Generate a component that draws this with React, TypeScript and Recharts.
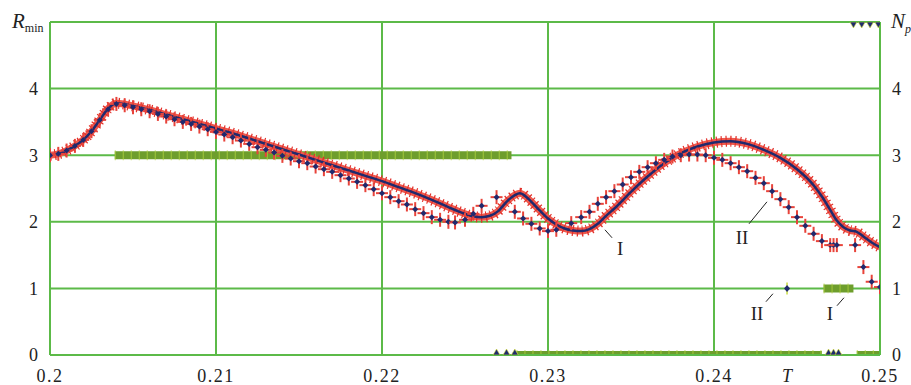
import React from 'react';
import {
    ComposedChart, Line, Scatter, XAxis, YAxis, ReferenceLine, ReferenceDot
} from 'recharts';

// curve I (dense, drawn as a line)
const curveT = [
    0.2, 0.2005, 0.201, 0.2015, 0.202, 0.2025, 0.203, 0.2035, 0.204, 0.205,
    0.206, 0.207, 0.208, 0.209, 0.21, 0.211, 0.212, 0.213, 0.214, 0.215,
    0.216, 0.217, 0.218, 0.219, 0.22, 0.221, 0.222, 0.223, 0.224, 0.225,
    0.2255, 0.226, 0.2265, 0.227, 0.2275, 0.228, 0.2283, 0.229, 0.2295, 0.23,
    0.2305, 0.231, 0.2315, 0.232, 0.2325, 0.233, 0.2335, 0.234, 0.235, 0.236,
    0.237, 0.238, 0.239, 0.24, 0.241, 0.242, 0.243, 0.244, 0.245, 0.246,
    0.2465, 0.247, 0.2474, 0.2478, 0.2482, 0.2486, 0.249, 0.2495, 0.25,
];
const curveR = [
    3.0, 3.02, 3.07, 3.14, 3.23, 3.36, 3.53, 3.7, 3.78, 3.74,
    3.68, 3.61, 3.54, 3.47, 3.4, 3.33, 3.25, 3.17, 3.09, 3.01,
    2.93, 2.85, 2.77, 2.69, 2.61, 2.52, 2.43, 2.33, 2.22, 2.12,
    2.08, 2.07, 2.09, 2.16, 2.3, 2.4, 2.43, 2.3, 2.17, 2.05,
    1.96, 1.9, 1.87, 1.86, 1.89, 1.97, 2.09, 2.2, 2.45, 2.68,
    2.88, 3.03, 3.13, 3.19, 3.21, 3.17, 3.08, 2.96, 2.79, 2.55,
    2.38, 2.18, 2.02, 1.92, 1.87, 1.85, 1.78, 1.69, 1.62,
];

// curve II (sparse crosses)
const sparseT = [
    0.2, 0.2005, 0.201, 0.2015, 0.202, 0.2025, 0.203, 0.2035, 0.204, 0.2045,
    0.205, 0.2055, 0.206, 0.2065, 0.207, 0.2075, 0.208, 0.2085, 0.209, 0.2095,
    0.21, 0.2105, 0.211, 0.2115, 0.212, 0.2125, 0.213, 0.2135, 0.214, 0.2145,
    0.215, 0.2155, 0.216, 0.2165, 0.217, 0.2175, 0.218, 0.2185, 0.219, 0.2195,
    0.22, 0.2205, 0.221, 0.2215, 0.222, 0.2225, 0.223, 0.2235, 0.224, 0.2244,
    0.225, 0.2255, 0.226, 0.2269, 0.228, 0.2285, 0.229, 0.2295, 0.23, 0.2305,
    0.2314, 0.232, 0.2325, 0.233, 0.2335, 0.234, 0.2345, 0.235, 0.2355, 0.236,
    0.2365, 0.237, 0.2375, 0.238, 0.2385, 0.239, 0.2395, 0.24, 0.2405, 0.241,
    0.2415, 0.242, 0.2425, 0.243, 0.2435, 0.244, 0.2445, 0.245, 0.2455, 0.246,
    0.2465, 0.247, 0.2472, 0.2474, 0.2485, 0.249, 0.2495, 0.25,
];
const sparseR = [
    3.0, 3.02, 3.07, 3.14, 3.23, 3.36, 3.53, 3.69, 3.77, 3.75,
    3.72, 3.69, 3.66, 3.62, 3.58, 3.54, 3.5, 3.47, 3.43, 3.39,
    3.35, 3.31, 3.27, 3.22, 3.17, 3.12, 3.08, 3.04, 2.99, 2.95,
    2.91, 2.88, 2.83, 2.79, 2.75, 2.7, 2.65, 2.6, 2.55, 2.49,
    2.43, 2.37, 2.31, 2.26, 2.19, 2.13, 2.07, 2.03, 2.0, 1.99,
    2.03, 2.12, 2.24, 2.37, 2.15, 2.05, 1.97, 1.9, 1.86, 1.88,
    1.98, 2.07, 2.15, 2.27, 2.37, 2.46, 2.56, 2.67, 2.75, 2.82,
    2.88, 2.93, 2.98, 3.0, 3.01, 3.01, 3.0, 2.96, 2.93, 2.88,
    2.82, 2.76, 2.66, 2.58, 2.46, 2.34, 2.22, 2.07, 1.94, 1.82,
    1.71, 1.65, 1.65, 1.65, 1.65, 1.32, 1.1, 1.02,
];

// N_p for I' (green bands), null = gap
const npIT = [0.2039, 0.2278, 0.2279, 0.2281, 0.2465, 0.2466, 0.2466, 0.2484, 0.2485, 0.2486, 0.25];
const npIN = [3, 3, null, 0, 0, null, 1, 1, null, 0, 0];

// N_p for II' (navy markers)
const npIIT = [0.2269, 0.2275, 0.228, 0.2444, 0.2469, 0.2472, 0.2475, 0.2484, 0.2489, 0.2494, 0.2499];
const npIIN = [0, 0, 0, 1, 0, 0, 0, 5, 5, 5, 5];

const xTicks = [0.2, 0.21, 0.22, 0.23, 0.24, 0.2444, 0.25];
const tLabelAt = 0.2444;
const yTicks = [0, 1, 2, 3, 4, 5];
const gridX = [0.21, 0.22, 0.23, 0.24];
const gridY = [1, 2, 3, 4, 5];

const notes = [
    { text: 'I', t: 0.23434, v: 1.6, line: [[0.23343, 1.88], [0.23386, 1.76]] },
    { text: 'II', t: 0.24169, v: 1.76, line: [[0.24211, 1.97], [0.24319, 2.3]] },
    { text: 'II', t: 0.24259, v: 0.63, line: [[0.24313, 0.8], [0.24355, 0.92]] },
    { text: 'I', t: 0.24699, v: 0.63, line: [[0.24741, 0.74], [0.24783, 0.86]] },
];

const curveData = curveT.map((t, i) => ({ t, r: curveR[i] }));
const sparseData = sparseT.map((t, i) => ({ t, r: sparseR[i] }));
const npIData = npIT.map((t, i) => ({ t, n: npIN[i] }));
const npIIData = npIIT.map((t, i) => ({ t, n: npIIN[i] }));

const GRID = '#5cba48';
const FONT = 'Liberation Serif';
const NAVY = '#1f2a6e';
const RED = '#e8433a';
const TXT = { fontFamily: FONT };

const CrossMark = (p: any) => {
    const { cx, cy } = p;
    if (cx == null || cy == null) return null;
    return (
        <g>
            <line x1={cx - 6} x2={cx + 6} y1={cy} y2={cy} stroke={RED} strokeWidth={2} />
            <line x1={cx} x2={cx} y1={cy - 7} y2={cy + 7} stroke={RED} strokeWidth={2} />
            <path d={`M${cx},${cy - 3}L${cx + 3},${cy}L${cx},${cy + 3}L${cx - 3},${cy}Z`} fill={NAVY} />
        </g>
    );
};

const NpMark = (p: any) => {
    const { cx, cy, payload } = p;
    if (cx == null || cy == null) return null;
    if (payload.n === 0) {
        return <path d={`M${cx - 3.5},${cy}L${cx + 3.5},${cy}L${cx},${cy - 6}Z`} fill={NAVY} stroke="#d6e03a" strokeWidth={0.6} />;
    }
    if (payload.n === 5) {
        return <path d={`M${cx - 3.5},${cy}L${cx + 3.5},${cy}L${cx},${cy + 6}Z`} fill={NAVY} stroke="#d6e03a" strokeWidth={0.6} />;
    }
    return (
        <g>
            <line x1={cx} x2={cx} y1={cy - 6} y2={cy + 6} stroke="#c9dc40" strokeWidth={1.5} />
            <path d={`M${cx},${cy - 3.5}L${cx + 3},${cy}L${cx},${cy + 3.5}L${cx - 3},${cy}Z`} fill={NAVY} />
        </g>
    );
};

const XTick = (p: any) => {
    const { x, y, payload } = p;
    const isT = Math.abs(payload.value - tLabelAt) < 1e-6;
    return (
        <text x={x} y={y} dy="0.71em" textAnchor="middle" style={TXT} fontSize={18}
            fontStyle={isT ? 'italic' : 'normal'} letterSpacing={isT ? 0 : 1.5} fill="#222">
            {isT ? 'T' : String(payload.value)}
        </text>
    );
};

const LeftTick = (p: any) => {
    const { x, y, payload } = p;
    if (payload.value === 5) {
        return (
            <text x={12} y={y + 6} style={TXT} fill="#222">
                <tspan fontSize={21} fontStyle="italic">R</tspan>
                <tspan fontSize={12} dy={4}>min</tspan>
            </text>
        );
    }
    return (
        <text x={x} y={y} dy="0.35em" textAnchor="end" style={TXT} fontSize={18} fill="#222">
            {payload.value}
        </text>
    );
};

const RightTick = (p: any) => {
    const { x, y, payload } = p;
    if (payload.value === 5) {
        return (
            <text x={x - 1} y={y + 6} style={TXT} fill="#222" fontStyle="italic">
                <tspan fontSize={21}>N</tspan>
                <tspan fontSize={12} dy={5}>p</tspan>
            </text>
        );
    }
    return (
        <text x={x} y={y} dy="0.35em" textAnchor="start" style={TXT} fontSize={18} fill="#222">
            {payload.value}
        </text>
    );
};

export default function App() {
    return (
        <div style={{ position: 'absolute', left: 0, top: 0, width: 911, height: 385, background: '#fff' }}>
            <ComposedChart width={911} height={385} margin={{ top: 22, right: 6, bottom: 5, left: 10 }}>
                <XAxis
                    dataKey="t"
                    type="number"
                    domain={[0.2, 0.25]}
                    ticks={xTicks}
                    interval={0}
                    tick={<XTick />}
                    tickLine={false}
                    tickMargin={8}
                    axisLine={{ stroke: GRID, strokeWidth: 2 }}
                    height={25}
                    allowDataOverflow
                />
                <YAxis
                    yAxisId="r"
                    domain={[0, 5]}
                    ticks={yTicks}
                    interval={0}
                    tick={<LeftTick />}
                    tickLine={false}
                    tickMargin={6}
                    axisLine={{ stroke: GRID, strokeWidth: 2 }}
                    width={40}
                    allowDataOverflow
                />
                <YAxis
                    yAxisId="np"
                    orientation="right"
                    domain={[0, 5]}
                    ticks={yTicks}
                    interval={0}
                    tick={<RightTick />}
                    tickLine={false}
                    tickMargin={6}
                    axisLine={{ stroke: GRID, strokeWidth: 2 }}
                    width={25}
                    allowDataOverflow
                />
                {gridX.map((x) => (
                    <ReferenceLine key={`gx${x}`} x={x} yAxisId="r" stroke={GRID} strokeWidth={2} />
                ))}
                {gridY.map((y) => (
                    <ReferenceLine key={`gy${y}`} y={y} yAxisId="r" stroke={GRID} strokeWidth={2} />
                ))}

                <Line data={npIData} yAxisId="np" dataKey="n" type="linear" stroke="#6e9e2c" strokeWidth={8}
                    dot={false} isAnimationActive={false} connectNulls={false} />
                <Line data={npIData} yAxisId="np" dataKey="n" type="linear" stroke="#b4d442" strokeWidth={10}
                    strokeOpacity={0.75} strokeDasharray="1 7" dot={false} isAnimationActive={false} connectNulls={false} />
                <Scatter data={npIIData} yAxisId="np" dataKey="n" shape={<NpMark />} isAnimationActive={false} />

                <Line data={curveData} yAxisId="r" dataKey="r" type="monotone" stroke="#ee5a4e" strokeWidth={7}
                    dot={false} isAnimationActive={false} />
                <Line data={curveData} yAxisId="r" dataKey="r" type="monotone" stroke="#e2302a" strokeWidth={11}
                    strokeDasharray="1.2 3.5" dot={false} isAnimationActive={false} />
                <Scatter data={sparseData} yAxisId="r" dataKey="r" shape={<CrossMark />} isAnimationActive={false} />
                <Line data={curveData} yAxisId="r" dataKey="r" type="monotone" stroke={NAVY} strokeWidth={2.5}
                    dot={false} isAnimationActive={false} />

                {notes.map((n, i) => (
                    <ReferenceLine key={`nl${i}`} yAxisId="r" stroke="#222" strokeWidth={1}
                        segment={[{ x: n.line[0][0], y: n.line[0][1] }, { x: n.line[1][0], y: n.line[1][1] }]} />
                ))}
                {notes.map((n, i) => (
                    <ReferenceDot key={`nt${i}`} yAxisId="r" x={n.t} y={n.v} r={0}
                        shape={(p: any) => (
                            <text x={p.cx} y={p.cy} dy="0.35em" textAnchor="middle" style={TXT}
                                fontSize={19} fill="#222">{n.text}</text>
                        )} />
                ))}
            </ComposedChart>
        </div>
    );
}
